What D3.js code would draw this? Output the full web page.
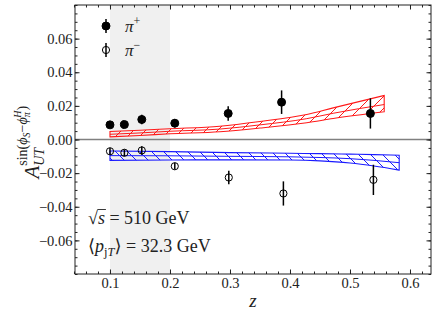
<!DOCTYPE html>
<html>
<head>
<meta charset="utf-8">
<script src="https://cdn.jsdelivr.net/npm/d3@7"></script>
<style>
  body { margin: 0; background: #fff; }
  text { font-family: "Liberation Serif", "DejaVu Serif", serif; fill: #222; }
  .axis path { stroke: #222; }
  .axis line { stroke: #222; }
</style>
</head>
<body>
<svg id="chart" width="441" height="317"></svg>
<script>
// pi+ points (filled)
var zPlus = [0.1, 0.124, 0.153, 0.208, 0.297, 0.386, 0.534];
var aPlus = [0.0087, 0.0089, 0.0119, 0.0097, 0.0155, 0.0222, 0.0155];
var ePlus = [0.0018, 0.002, 0.0028, 0.0025, 0.0043, 0.007, 0.009];

// pi- points (open)
var zMinus = [0.1, 0.124, 0.153, 0.208, 0.298, 0.389, 0.539];
var aMinus = [-0.0070, -0.0079, -0.0065, -0.0159, -0.0226, -0.0321, -0.0240];
var eMinus = [0.002, 0.002, 0.0025, 0.002, 0.004, 0.0072, 0.009];

// theory bands
var zRed = [0.1, 0.15, 0.2, 0.283, 0.35, 0.428, 0.472, 0.557];
var redHigh = [0.0048, 0.0055, 0.0064, 0.0079, 0.0107, 0.0149, 0.0188, 0.0262];
var redMid = [0.0031, 0.0039, 0.0049, 0.0062, 0.0087, 0.0124, 0.0156, 0.0208];
var redLow = [0.0016, 0.0024, 0.0034, 0.0046, 0.0068, 0.0100, 0.0125, 0.0165];

var zBlue = [0.1, 0.2, 0.3, 0.4, 0.45, 0.5, 0.54, 0.582];
var blueHigh = [-0.0068, -0.0072, -0.0078, -0.0082, -0.0084, -0.0087, -0.0090, -0.0094];
var blueMid = [-0.0096, -0.0097, -0.0100, -0.0103, -0.0107, -0.0114, -0.0124, -0.0138];
var blueLow = [-0.0124, -0.0122, -0.0121, -0.0122, -0.0127, -0.0140, -0.0158, -0.0182];

// ticks
var xMajor = [0.1, 0.2, 0.3, 0.4, 0.5, 0.6];
var yMajor = [-0.06, -0.04, -0.02, 0, 0.02, 0.04, 0.06];
var shadeRange = [0.1, 0.2];

var svg = d3.select('#chart');
var padding = { t: 5, r: 10, b: 43, l: 75 };
var W = 441, H = 317;

var x = d3.scaleLinear().domain([0.0417, 0.635]).range([padding.l, W - padding.r]);
var y = d3.scaleLinear().domain([-0.08, 0.08]).range([H - padding.b, padding.t]);

// plot box edges (not called top/left: those clash with window globals)
var boxL = padding.l, boxR = W - padding.r, boxT = padding.t, boxB = H - padding.b;

var defs = svg.append('defs');
function hatch(id, color, dir) {
    var p = defs.append('pattern')
        .attr('id', id)
        .attr('patternUnits', 'userSpaceOnUse')
        .attr('width', 12).attr('height', 12);
    var d = dir === '/'
        ? 'M0,12 L12,0 M-3,3 L3,-3 M9,15 L15,9'
        : 'M0,0 L12,12 M-3,9 L3,15 M9,-3 L15,3';
    p.append('path').attr('d', d).attr('stroke', color).attr('stroke-width', 1);
}
hatch('hatchRed', '#ff1a1a', '/');
hatch('hatchBlue', '#1a1aff', '\\');

// shaded z region
svg.append('rect')
    .attr('x', x(shadeRange[0]))
    .attr('y', boxT)
    .attr('width', x(shadeRange[1]) - x(shadeRange[0]))
    .attr('height', boxB - boxT)
    .attr('fill', '#f0f0f0');

// zero line
svg.append('line')
    .attr('x1', boxL).attr('x2', boxR)
    .attr('y1', y(0)).attr('y2', y(0))
    .attr('stroke', '#808080').attr('stroke-width', 1.6);

function drawBand(zs, hi, mid, lo, color, pat) {
    var pts = zs.map(function (z, i) { return { z: z, hi: hi[i], mid: mid[i], lo: lo[i] }; });
    var area = d3.area().curve(d3.curveMonotoneX)
        .x(d => x(d.z)).y0(d => y(d.lo)).y1(d => y(d.hi));
    var line = d3.line().curve(d3.curveMonotoneX).x(d => x(d.z));
    svg.append('path').attr('d', area(pts)).attr('fill', 'url(#' + pat + ')');
    svg.append('path').attr('d', area(pts))
        .attr('fill', 'none').attr('stroke', color).attr('stroke-width', 1.1);
    svg.append('path').attr('d', line.y(d => y(d.mid))(pts))
        .attr('fill', 'none').attr('stroke', color).attr('stroke-width', 1);
}
drawBand(zRed, redHigh, redMid, redLow, '#ff1a1a', 'hatchRed');
drawBand(zBlue, blueHigh, blueMid, blueLow, '#1a1aff', 'hatchBlue');

function drawPoints(zs, as, es, filled) {
    var g = svg.append('g');
    zs.forEach(function (z, i) {
        g.append('line')
            .attr('x1', x(z)).attr('x2', x(z))
            .attr('y1', y(as[i] - es[i])).attr('y2', y(as[i] + es[i]))
            .attr('stroke', '#000').attr('stroke-width', 1.5);
        g.append('circle')
            .attr('cx', x(z)).attr('cy', y(as[i]))
            .attr('r', filled ? 4 : 3.6)
            .attr('fill', filled ? '#000' : 'none')
            .attr('stroke', '#000').attr('stroke-width', 1);
    });
}
drawPoints(zPlus, aPlus, ePlus, true);
drawPoints(zMinus, aMinus, eMinus, false);

// axes: ticks pointing inward on all four sides
var xMinor = d3.range(0.04, 0.635, 0.02);
var yMinor = d3.range(-0.08, 0.0801, 0.005);

function addAxis(axisFn, scale, pos, vals, size, labels) {
    var ax = axisFn(scale).tickValues(vals).tickSizeInner(-size).tickSizeOuter(0).tickPadding(4);
    if (labels) ax.tickFormat(labels); else ax.tickFormat('');
    var g = svg.append('g').attr('class', 'axis').attr('transform', pos).call(ax);
    g.select('.domain').remove();
    return g;
}
addAxis(d3.axisBottom, x, 'translate(0,' + boxB + ')', xMinor, 2.5);
addAxis(d3.axisTop, x, 'translate(0,' + boxT + ')', xMinor, 2.5);
addAxis(d3.axisLeft, y, 'translate(' + boxL + ',0)', yMinor, 2.5);
addAxis(d3.axisRight, y, 'translate(' + boxR + ',0)', yMinor, 2.5);
var xg = addAxis(d3.axisBottom, x, 'translate(0,' + boxB + ')', xMajor, 4.5, d3.format('.1f'));
addAxis(d3.axisTop, x, 'translate(0,' + boxT + ')', xMajor, 4.5);
var yg = addAxis(d3.axisLeft, y, 'translate(' + boxL + ',0)', yMajor, 4.5, d3.format('.2f'));
addAxis(d3.axisRight, y, 'translate(' + boxR + ',0)', yMajor, 4.5);
xg.selectAll('text').style('font-size', '14.5px').style('font-family', '"Liberation Serif", serif').attr('fill', '#333');
yg.selectAll('text').style('font-size', '14.5px').style('font-family', '"Liberation Serif", serif').attr('fill', '#333');
yg.selectAll('.tick text').attr('x', -2.5);
xg.selectAll('.tick text').attr('y', 4);

svg.append('rect')
    .attr('x', boxL).attr('y', boxT)
    .attr('width', boxR - boxL).attr('height', boxB - boxT)
    .attr('fill', 'none').attr('stroke', '#222').attr('stroke-width', 1);

// legend
var legend = [{ y: 26, filled: true, sign: '+' }, { y: 50, filled: false, sign: '\u2212' }];
legend.forEach(function (d) {
    svg.append('line').attr('x1', 106).attr('x2', 106).attr('y1', d.y - 7).attr('y2', d.y + 7)
        .attr('stroke', '#000').attr('stroke-width', 1.5);
    svg.append('circle').attr('cx', 106).attr('cy', d.y).attr('r', d.filled ? 4 : 3.6)
        .attr('fill', d.filled ? '#000' : 'none').attr('stroke', '#000');
    var t = svg.append('text').attr('x', 125).attr('y', d.y + 6).style('font-size', '17px');
    t.append('tspan').style('font-style', 'italic').text('\u03c0');
    t.append('tspan').attr('dy', -7).style('font-size', '12px').text(d.sign);
});

// annotations
var t1 = svg.append('text').attr('x', 88).attr('y', 224).style('font-size', '18px');
t1.append('tspan').text('\u221a');
t1.append('tspan').style('font-style', 'italic').text('s');
t1.append('tspan').text(' = 510 GeV');
var sStart = t1.node().getStartPositionOfChar(1).x;
var sEnd = t1.node().getEndPositionOfChar(1).x;
svg.append('line').attr('x1', sStart - 0.5).attr('x2', sEnd + 1).attr('y1', 209.5).attr('y2', 209.5)
    .attr('stroke', '#222').attr('stroke-width', 0.9);

var t2 = svg.append('text').attr('x', 88).attr('y', 252).style('font-size', '18px');
t2.append('tspan').text('\u27e8');
t2.append('tspan').style('font-style', 'italic').text('p');
t2.append('tspan').attr('dy', 4).style('font-size', '12.5px').text('j');
t2.append('tspan').style('font-size', '12.5px').style('font-style', 'italic').text('T');
t2.append('tspan').attr('dy', -4).text('\u27e9 = 32.3 GeV');

// x label
svg.append('text').attr('x', (boxL + boxR) / 2).attr('y', 307)
    .attr('text-anchor', 'middle').style('font-size', '19px').style('font-style', 'italic').text('z');

// y label (rotated), built from pieces
var yl = svg.append('g').attr('transform', 'translate(39,' + ((boxT + boxB) / 2) + ') rotate(-90)');
var aT = yl.append('text').attr('x', 0).attr('y', 0).style('font-size', '21px').style('font-style', 'italic').text('A');
var wA = aT.node().getComputedTextLength();
var subT = yl.append('text').attr('x', wA).attr('y', 5).style('font-size', '14px').style('font-style', 'italic').text('UT');
var supT = yl.append('text').attr('x', wA).attr('y', -12).style('font-size', '14px');
supT.append('tspan').text('sin(');
supT.append('tspan').style('font-style', 'italic').text('\u03d5');
supT.append('tspan').attr('dy', 3).style('font-size', '10px').style('font-style', 'italic').text('S');
supT.append('tspan').attr('dy', -3).text('\u2212');
supT.append('tspan').style('font-style', 'italic').text('\u03d5');
supT.append('tspan').attr('dy', 3).style('font-size', '10px').style('font-style', 'italic').text('\u03c0');
supT.append('tspan').attr('dx', -5.5).attr('dy', -9).style('font-size', '10px').style('font-style', 'italic').text('H');
supT.append('tspan').attr('dy', 6).text(')');
var wTot = wA + Math.max(subT.node().getComputedTextLength(), supT.node().getComputedTextLength());
yl.selectAll('text').attr('transform', 'translate(' + (-wTot / 2) + ',0)');
</script>
</body>
</html>
